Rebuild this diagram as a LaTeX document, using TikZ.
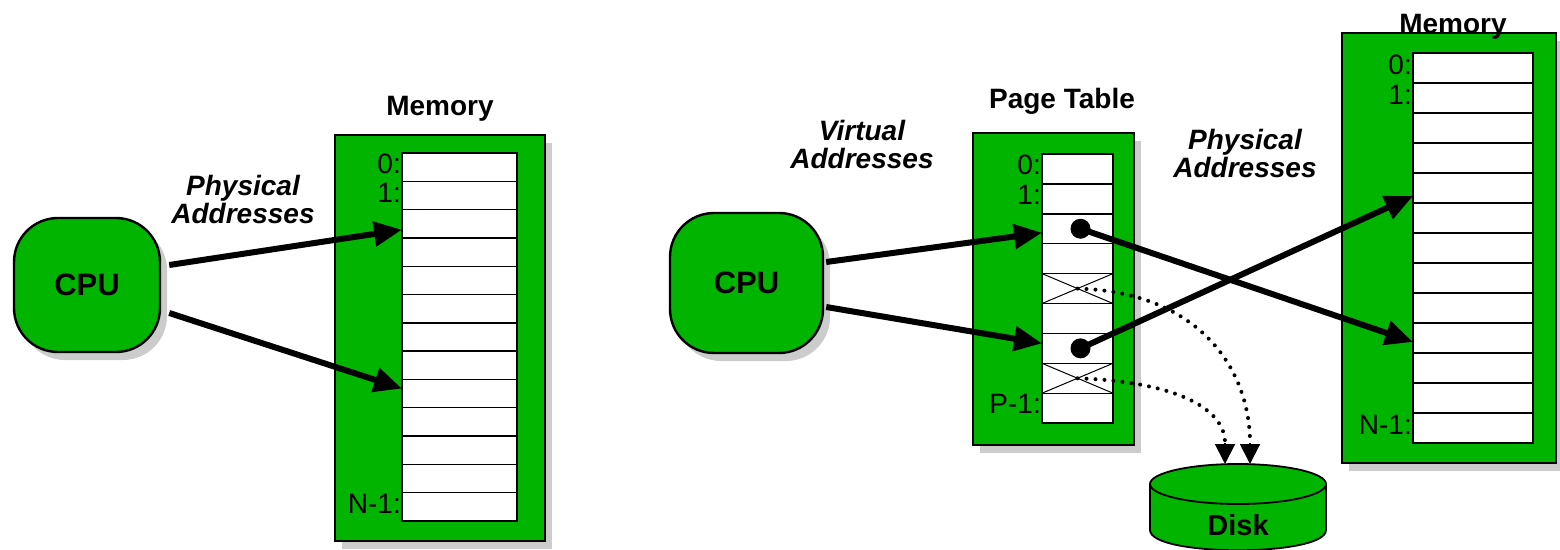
\documentclass[tikz,border=0pt]{standalone}
\usepackage{fontspec}
\setmainfont{Liberation Sans}
\usetikzlibrary{arrows.meta,shadows,positioning}
\definecolor{vmgreen}{RGB}{0,180,0}
\tikzset{
  shade box/.style={drop shadow={shadow xshift=7pt,shadow yshift=-8pt,fill=black!20,opacity=1}},
  cpubox/.style={draw,line width=2.4pt,fill=vmgreen,rounded corners=44pt,inner sep=0pt,shade box,
    font=\fontsize{31}{33}\selectfont\bfseries},
  membox/.style={draw,line width=2pt,fill=vmgreen,inner sep=0pt,shade box},
  cell/.style={draw,line width=1.4pt,fill=white,inner sep=0pt,outer sep=0pt},
  idx/.style={anchor=east,yshift=3pt,inner sep=1pt,font=\fontsize{28}{28}\selectfont},
  title/.style={anchor=base,inner sep=0pt,font=\fontsize{28}{30}\selectfont\bfseries},
  addr/.style={align=center,inner sep=0pt,font=\fontsize{28}{28}\selectfont\bfseries\itshape},
  bigarrow/.style={line width=6pt,-{Triangle[length=28pt,width=24pt]}},
  dotline/.style={line width=4pt,line cap=round,dash pattern=on 0pt off 9pt},
  diskarrow/.style={line width=2pt,-{Triangle[length=20pt,width=20pt]}},
  pdot/.style={circle,fill=black,inner sep=0pt,minimum size=20pt}
}
\begin{document}
\begin{tikzpicture}[x=1pt,y=-1pt]
\useasboundingbox (0,0) rectangle (1560,549);
% left: CPU on physical memory
\node[cpubox,minimum width=146pt,minimum height=134pt] (lcpu) at (87,285) {CPU};
\node[membox,minimum width=210pt,minimum height=406pt] (lmem) at (440,338) {};
\node[title] (lmemtitle) at (440,115) {Memory};
\foreach \i in {0,...,12}
  \node[cell,minimum width=115pt,minimum height=28.3pt] (lcell\i) at (459.5,{153+(\i+0.5)*28.3}) {};
\node[idx] at (lcell0.west) {0:};
\node[idx] at (lcell1.west) {1:};
\node[idx] at (lcell12.west) {N-1:};
\node[addr] (lphys) at (243,199) {Physical\\Addresses};
\draw[bigarrow] ([xshift=8pt,yshift=20pt]lcpu.east) -- ([yshift=-6pt]lcell2.west);
\draw[bigarrow] ([xshift=8pt,yshift=-28pt]lcpu.east) -- ([yshift=5pt]lcell8.west);
% right: CPU, page table, memory, disk
\node[cpubox,minimum width=153pt,minimum height=140pt] (rcpu) at (746.5,283) {CPU};
\node[addr] (virt) at (862,144) {Virtual\\Addresses};
\node[membox,minimum width=161pt,minimum height=312pt] (ptab) at (1053.5,289) {};
\node[title] (ptabtitle) at (1062,108) {Page Table};
\foreach \i in {0,...,8}
  \node[cell,minimum width=71pt,minimum height=29.9pt] (pcell\i) at (1077.5,{154+(\i+0.5)*29.9}) {};
\node[idx,yshift=1pt] at (pcell0.west) {0:};
\node[idx,yshift=1pt] at (pcell1.west) {1:};
\node[idx,yshift=1pt] at (pcell8.west) {P-1:};
\foreach \i in {4,7}
  \draw[line width=1pt] (pcell\i.north west) -- (pcell\i.south east)
    (pcell\i.south west) -- (pcell\i.north east);
\node[membox,minimum width=214pt,minimum height=430pt] (rmem) at (1449,248) {};
\node[title] (rmemtitle) at (1453,33) {Memory};
\foreach \i in {0,...,12}
  \node[cell,minimum width=120pt,minimum height=30pt] (rcell\i) at (1473,{53+(\i+0.5)*30}) {};
\node[idx] at (rcell0.west) {0:};
\node[idx] at (rcell1.west) {1:};
\node[idx] at (rcell12.west) {N-1:};
\node[addr] (rphys) at (1245,153) {Physical\\Addresses};
\draw[line width=1.8pt,fill=vmgreen] (1150,484) -- (1150,530)
  .. controls (1150,557) and (1326,557) .. (1326,530) -- (1326,484);
\draw[line width=1.8pt,fill=vmgreen] (1238,484) ellipse [x radius=88pt,y radius=20pt];
\node[font=\fontsize{29}{30}\selectfont\bfseries] (disk) at (1238,525) {Disk};
\coordinate (diskpre1) at (1225,443);
\coordinate (diskin1) at (1225,464);
\coordinate (diskpre2) at (1250,443);
\coordinate (diskin2) at (1250,464);
\draw[dotline] (pcell4.center) .. controls (1200,292) and (1250,370) .. (diskpre2);
\draw[dotline] (pcell7.center) .. controls (1180,382) and (1225,410) .. (diskpre1);
\draw[diskarrow] (diskpre1) -- (diskin1);
\draw[diskarrow] (diskpre2) -- (diskin2);
\draw[bigarrow] ([xshift=2pt,yshift=21pt]rcpu.east) -- ([yshift=-4pt]pcell2.west);
\draw[bigarrow] ([xshift=2pt,yshift=-24pt]rcpu.east) -- ([yshift=5pt]pcell6.west);
\node[pdot] (dot1) at ([xshift=3pt]pcell2.center) {};
\node[pdot] (dot2) at ([xshift=3pt]pcell6.center) {};
\draw[bigarrow] (dot1.center) -- ([yshift=-4pt]rcell9.west);
\draw[bigarrow] (dot2.center) -- ([yshift=-8pt]rcell4.west);
\end{tikzpicture}
\end{document}
